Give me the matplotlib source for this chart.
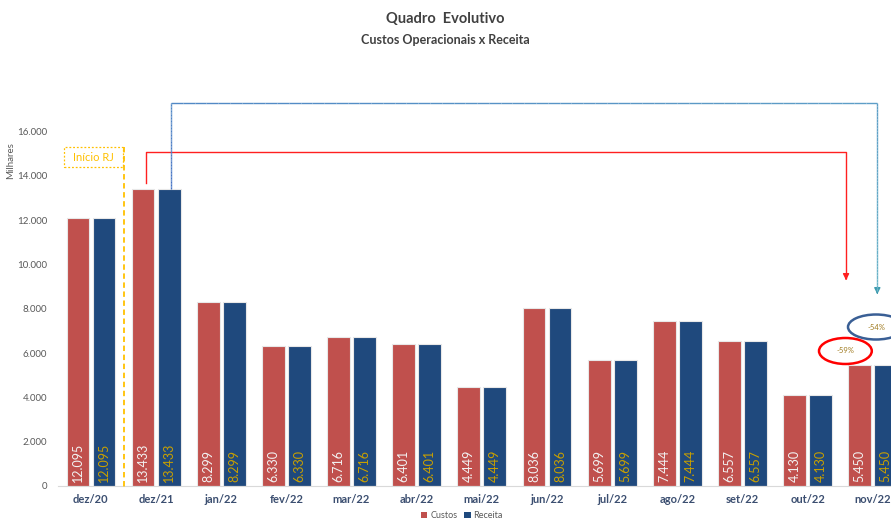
import numpy as np
import matplotlib.pyplot as plt
from matplotlib.patches import Ellipse, Rectangle
from matplotlib.collections import LineCollection
from matplotlib.colors import to_rgb

plt.rcParams['font.family'] = ['Lato', 'DejaVu Sans']

meses = ['dez/20', 'dez/21', 'jan/22', 'fev/22', 'mar/22', 'abr/22', 'mai/22',
         'jun/22', 'jul/22', 'ago/22', 'set/22', 'out/22', 'nov/22']
custos = [12095, 13433, 8299, 6330, 6716, 6401, 4449, 8036, 5699, 7444, 6557, 4130, 5450]
receita = [12095, 13433, 8299, 6330, 6716, 6401, 4449, 8036, 5699, 7444, 6557, 4130, 5450]
var_custos = '-59%'
var_receita = '-54%'

c_custos = '#C0504D'
c_receita = '#1F497D'

def fmt(v):
    return f'{v:,}'.replace(',', '.')

fig = plt.figure(figsize=(8.91, 5.2), dpi=100)
ax = fig.add_axes([0.0655, 0.0654, 0.9345, 0.7452])

x = np.arange(len(meses))
w = 0.35
ax.bar(x - 0.2, custos, w, color=c_custos, edgecolor='#E8E8E8', linewidth=0.8, label='Custos', zorder=2)
ax.bar(x + 0.2, receita, w, color=c_receita, edgecolor='#E8E8E8', linewidth=0.8, label='Receita', zorder=2)

for i in range(len(meses)):
    ax.annotate(fmt(custos[i]), (x[i] - 0.2, 0), xytext=(0, 3), textcoords='offset points',
                rotation=90, ha='center', va='bottom', fontsize=9, color='#F2F2F2', zorder=3)
    ax.annotate(fmt(receita[i]), (x[i] + 0.2, 0), xytext=(0, 3), textcoords='offset points',
                rotation=90, ha='center', va='bottom', fontsize=9, color='#C9A000', zorder=3)

ax.set_xlim(-0.5, 12.28)
ax.set_ylim(0, 17500)
ax.set_yticks(np.arange(0, 16001, 2000))
ax.set_yticklabels([fmt(v) for v in range(0, 16001, 2000)], fontsize=7, color='#595959')
ax.set_xticks(x)
ax.set_xticklabels(meses, fontsize=8, fontweight='bold', color='#3B4E70')
ax.tick_params(axis='both', length=0)
ax.tick_params(axis='x', pad=6)
ax.tick_params(axis='y', pad=8)
for s in ['top', 'right', 'left']:
    ax.spines[s].set_visible(False)
ax.spines['bottom'].set_color('#D9D9D9')
ax.set_ylabel('Milhares', fontsize=7, color='#595959', labelpad=12)
ax.yaxis.set_label_coords(-0.052, 0.84)

# conector vermelho (custos)
rx = [0.84, 0.84, 11.59, 11.59]
ry = [13683, 15083, 15083, 9400]
ax.plot(rx, ry, color='#FF2020', lw=1.0, clip_on=False, zorder=4)
ax.annotate('', xy=(11.59, 9167), xytext=(11.59, 9500),
            arrowprops=dict(arrowstyle='-|>', color='#FF2020', lw=1.0, mutation_scale=9),
            annotation_clip=False)

# conector azul (receita), gradiente azul -> azul-claro
bx = [1.23, 1.23, 12.07, 12.07]
by = [13433, 17296, 17296, 8800]
c1, c2 = np.array(to_rgb('#4472C4')), np.array(to_rgb('#6BB5C8'))
segs, cols = [], []
n = 60
for k in range(3):
    xs = np.linspace(bx[k], bx[k + 1], n + 1)
    ys = np.linspace(by[k], by[k + 1], n + 1)
    for j in range(n):
        t = (k * n + j) / (3 * n)
        segs.append([(xs[j], ys[j]), (xs[j + 1], ys[j + 1])])
        cols.append(tuple(c1 * (1 - t) + c2 * t))
lc = LineCollection(segs, colors=cols, linewidths=1.0, clip_on=False, zorder=4)
ax.add_collection(lc)
ax.annotate('', xy=(12.07, 8535), xytext=(12.07, 8900),
            arrowprops=dict(arrowstyle='-|>', color='#3C9AAE', lw=1.0, mutation_scale=9),
            annotation_clip=False)

# elipses de variacao
e1 = Ellipse((11.58, 6097), 0.81, 1174, fill=False, edgecolor='#FF0000', lw=1.8, clip_on=False, zorder=5)
e2 = Ellipse((12.05, 7180), 0.86, 1129, fill=False, edgecolor='#3A5F95', lw=1.8, clip_on=False, zorder=5)
ax.add_patch(e1)
ax.add_patch(e2)
ax.text(11.58, 6097, var_custos, fontsize=5.5, color='#A07B20', ha='center', va='center', zorder=6)
ax.text(12.05, 7180, var_receita, fontsize=5.5, color='#A07B20', ha='center', va='center', zorder=6)

# inicio RJ
ax.add_patch(Rectangle((-0.414, 14406), 0.904, 903, fill=False, edgecolor='#FFC000',
                       lw=0.9, linestyle=(0, (1.5, 1.5)), clip_on=False, zorder=4))
ax.plot([0.5, 0.5], [15309, -180], color='#FFC000', lw=1.3, linestyle=(0, (3, 2)),
        clip_on=False, zorder=4)
ax.text(0.04, 14857, 'Início RJ', fontsize=8, color='#FFC000', ha='center', va='center')

fig.text(0.4995, 0.963, 'Quadro  Evolutivo', fontsize=10.5, fontweight='bold',
         color='#404040', ha='center', va='center')
fig.text(0.4995, 0.923, 'Custos Operacionais x Receita', fontsize=9, fontweight='bold',
         color='#404040', ha='center', va='center')

leg = ax.legend(loc='center', bbox_to_anchor=(462 / 891, 4.5 / 520), bbox_transform=fig.transFigure,
                ncol=2, frameon=False, fontsize=6.5, handlelength=0.7, handleheight=0.7,
                handletextpad=0.3, columnspacing=0.8, labelcolor='#595959')
for h in leg.legend_handles:
    h.set_edgecolor('none')

fig.savefig('out.png', dpi=100)
